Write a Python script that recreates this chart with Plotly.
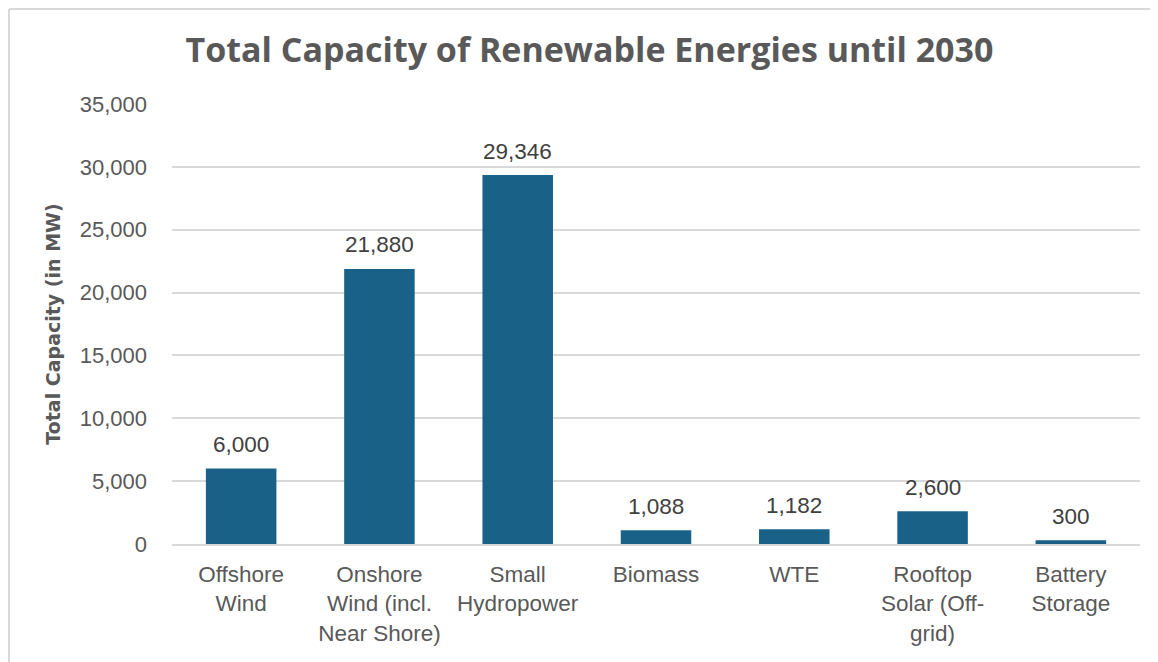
import plotly.graph_objects as go

categories = ["Offshore<br>Wind", "Onshore<br>Wind (incl.<br>Near Shore)", "Small<br>Hydropower",
              "Biomass", "WTE", "Rooftop<br>Solar (Off-<br>grid)", "Battery<br>Storage"]
capacity_mw = [6000, 21880, 29346, 1088, 1182, 2600, 300]
value_labels = ["6,000", "21,880", "29,346", "1,088", "1,182", "2,600", "300"]
y_tick_values = [0, 5000, 10000, 15000, 20000, 25000, 30000, 35000]

# page body has an 8px default margin, so the figure is sized/placed to compensate
W, H = 1150, 654
ML, MR, MT, MB = 164, 18, 96, 118
PW, PH = W - ML - MR, H - MT - MB

fig = go.Figure()
fig.add_trace(go.Bar(
    x=categories, y=capacity_mw,
    marker=dict(color="#1a6188", line=dict(width=0)),
    hoverinfo="x+y",
))

for c, v, t in zip(categories, capacity_mw, value_labels):
    fig.add_annotation(x=c, y=v, text=t, showarrow=False, yanchor="middle", yshift=24,
                       font=dict(family="Liberation Sans, Arial, sans-serif", size=22.5, color="#404040"))

# chart frame (top and left edges visible)
fx0 = (1 - ML) / PW
fx1 = (W - ML) / PW
fy_top = 1 + (MT - 1) / PH
fy_bot = -(H - MT - PH) / PH
fig.add_shape(type="line", xref="paper", yref="paper", x0=fx0, x1=fx1, y0=fy_top, y1=fy_top,
              line=dict(color="#d9d9d9", width=2))
fig.add_shape(type="line", xref="paper", yref="paper", x0=fx0, x1=fx0, y0=fy_bot, y1=fy_top,
              line=dict(color="#d9d9d9", width=2))

fig.update_layout(
    width=W, height=H,
    margin=dict(l=ML, r=MR, t=MT, b=MB),
    paper_bgcolor="white", plot_bgcolor="white",
    bargap=0.49,
    showlegend=False,
    title=dict(text="<b>Total Capacity of Renewable Energies until 2030</b>",
               x=581.5 / W, xref="container", xanchor="center",
               y=1 - 42 / H, yref="container", yanchor="middle",
               font=dict(family="Open Sans, sans-serif", size=34, color="#595959")),
    font=dict(family="Liberation Sans, Arial, sans-serif", color="#595959"),
)
fig.update_xaxes(
    showline=True, linecolor="#d9d9d9", linewidth=2,
    ticks="", tickfont=dict(size=22.5, color="#595959"),
    ticklabelstandoff=9,
)
fig.update_yaxes(
    range=[0, 35000], tickvals=y_tick_values, tickformat=",",
    showgrid=True, gridcolor="#d9d9d9", gridwidth=1.5,
    zeroline=False, showline=False, ticks="",
    tickfont=dict(size=22, color="#595959"),
    ticklabelstandoff=24,
    title=dict(text="<b>Total Capacity (in MW)</b>", standoff=14,
               font=dict(family="DejaVu Sans, sans-serif", size=19, color="#595959")),
)

fig.write_html("out.html")
